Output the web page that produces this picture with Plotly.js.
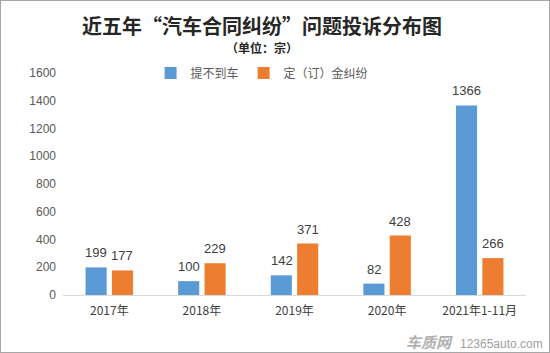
<!DOCTYPE html>
<html>
<head>
<meta charset="utf-8">
<script src="https://cdn.plot.ly/plotly-3.0.1.min.js"></script>
<style>
html,body{margin:0;padding:0;background:#fff;}
#wrap{width:550px;height:353px;box-sizing:border-box;border:1px solid #a6a6a6;}
#chart{width:548px;height:351px;}
</style>
</head>
<body>
<div id="wrap"><div id="chart"></div></div>
<script>
const categories = ['2017年', '2018年', '2019年', '2020年', '2021年1-11月'];
const seriesNames = ['提不到车', '定（订）金纠纷'];
const noCar = [199, 100, 142, 82, 1366];
const deposit = [177, 229, 371, 428, 266];
const yTicks = [0, 200, 400, 600, 800, 1000, 1200, 1400, 1600];

const FONT = '"Liberation Sans", Arial, "Noto Sans CJK SC", sans-serif';
const CJK = '"Noto Sans CJK SC", "Microsoft YaHei", sans-serif';

const traces = [
  {type:'bar', name:seriesNames[0], x:categories, y:noCar, marker:{color:'#5B9BD5'}, hoverinfo:'none'},
  {type:'bar', name:seriesNames[1], x:categories, y:deposit, marker:{color:'#ED7D31'}, hoverinfo:'none'}
];

const labelFont = {size:13, color:'#404040', family:FONT};
const valueLabels = [];
categories.forEach((c, i) => {
  valueLabels.push({x:c, y:noCar[i], text:String(noCar[i]), xref:'x', yref:'y', xshift:-13, yshift:5,
    xanchor:'center', yanchor:'bottom', showarrow:false, font:labelFont});
  valueLabels.push({x:c, y:deposit[i], text:String(deposit[i]), xref:'x', yref:'y', xshift:13, yshift:5,
    xanchor:'center', yanchor:'bottom', showarrow:false, font:labelFont});
});

const layout = {
  width:548, height:351,
  margin:{l:62, r:23, t:72, b:57},
  paper_bgcolor:'#fff', plot_bgcolor:'#fff',
  font:{family:FONT, color:'#595959', size:12},
  barmode:'group', bargap:0.43, bargroupgap:0.2,
  showlegend:true,
  title:{text:'<b>近五年“汽车合同纠纷”问题投诉分布图</b>', font:{family:CJK, size:20, color:'#262626'},
         x:261/548, xanchor:'center', y:1-26/351, yanchor:'middle'},
  legend:{orientation:'h', x:0.43, xanchor:'center', y:1.0, yanchor:'middle',
          font:{family:CJK, size:12, color:'#595959'}, itemwidth:30, traceorder:'normal'},
  xaxis:{type:'category', showline:true, linecolor:'#d9d9d9', linewidth:1, ticks:'',
         tickfont:{family:CJK, size:12, color:'#404040'}, showgrid:false, zeroline:false, ticklabelstandoff:5},
  yaxis:{range:[0,1600], tickvals:yTicks, ticktext:yTicks.map(String), showgrid:false,
         zeroline:false, showline:false, ticks:'', tickfont:{size:12, color:'#595959'}, ticklabelstandoff:6},
  annotations:valueLabels.concat([
    {text:'<b>（单位：宗）</b>', xref:'paper', yref:'paper', x:(261-62)/463, y:(294-46)/222,
     xanchor:'center', yanchor:'middle', showarrow:false, font:{family:CJK, size:12, color:'#262626'}},
    {text:'<b><i>车质网</i></b>', xref:'paper', yref:'paper', x:(428-62)/463, y:(294-340)/222,
     xanchor:'center', yanchor:'middle', showarrow:false, font:{family:CJK, size:15, color:'#b0b0b0'}},
    {text:'12365auto.com', xref:'paper', yref:'paper', x:(500-62)/463, y:(294-343)/222,
     xanchor:'center', yanchor:'middle', showarrow:false, font:{family:FONT, size:12, color:'#a0a0a0'}}
  ])
};

Plotly.newPlot('chart', traces, layout, {displayModeBar:false, staticPlot:true});
</script>
</body>
</html>
